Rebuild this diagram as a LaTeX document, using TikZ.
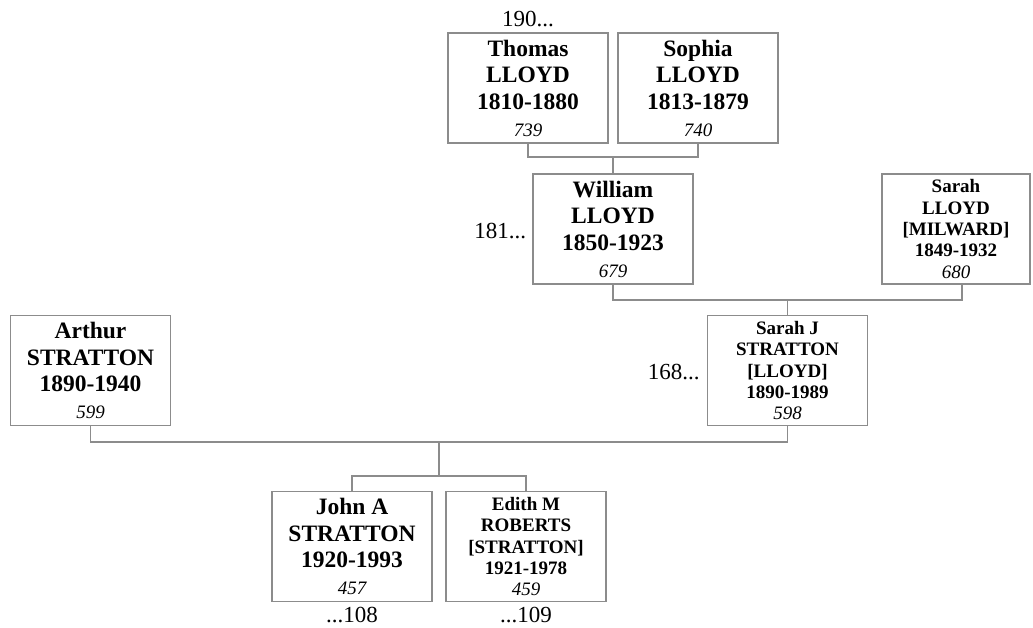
\documentclass[tikz,border=0pt]{standalone}
\usepackage{fontspec}
\setmainfont{Liberation Serif}
\usetikzlibrary{positioning}
\definecolor{boxgray}{RGB}{140,140,140}
\newcommand{\idno}[1]{{\fontsize{19}{21}\selectfont\mdseries\itshape #1}}

\begin{document}
\begin{tikzpicture}[
		x=1pt, y=-1pt,
		person/.style={
				draw=boxgray,
				line width=1.2pt,
				minimum width=160pt,
				minimum height=110pt,
				inner sep=0pt,
				align=center,
				font=\fontsize{23.5}{26.7}\selectfont\bfseries
			},
		small/.style={
				font=\fontsize{19}{21.3}\selectfont\bfseries,
				execute at begin node={\rule{0pt}{19pt}} % pushes the 5 lines down a bit
			},
		link/.style={draw=boxgray, line width=1.2pt},
		ref/.style={inner sep=0pt, font=\fontsize{23}{26}\selectfont}
	]
	\useasboundingbox (0,0) rectangle (1033,627);

	% grandparents
	\node[person] (thomas) at (528,88) {Thomas\\LLOYD\\1810-1880\\\idno{739}};
	\node[person] (sophia) at (698,88) {Sophia\\LLOYD\\1813-1879\\\idno{740}};

	% parents of Sarah J
	\node[person] (william) at (613,229) {William\\LLOYD\\1850-1923\\\idno{679}};
	\node[person, small, minimum width=148pt] (sarahl) at (956,229) {Sarah\\LLOYD\\{[MILWARD]}\\1849-1932\\\idno{680}};

	% couple
	\node[person] (arthur) at (90.5,370.5) {Arthur\\STRATTON\\1890-1940\\\idno{599}};
	\node[person, small] (sarahj) at (787.5,370.5) {Sarah J\\STRATTON\\{[LLOYD]}\\1890-1989\\\idno{598}};

	% children
	\node[person] (john) at (352,546.5) {John A\\STRATTON\\1920-1993\\\idno{457}};
	\node[person, small] (edith) at (526,546.5) {Edith M\\ROBERTS\\{[STRATTON]}\\1921-1978\\\idno{459}};

	% page references
	\node[ref, above=5pt of thomas] (thomasref) {190...};
	\node[ref, left=6pt of william, yshift=-2pt] (williamref) {181...};
	\node[ref, left=7pt of sarahj, yshift=-2pt] (sarahjref) {168...};
	\node[ref, below=5pt of john] (johnref) {...108};
	\node[ref, below=5pt of edith] (edithref) {...109};

	% family lines
	\coordinate (ts) at (613,157);
	\draw[link] (thomas.south) |- (ts) -| (sophia.south);
	\draw[link] (ts) -- (william.north);

	\coordinate (ws) at (787.5,300);
	\draw[link] (william.south) |- (ws) -| ([xshift=6pt]sarahl.south);
	\draw[link] (ws) -- (sarahj.north);

	\coordinate (as) at (439,442);
	\coordinate (kids) at (439,476);
	\draw[link] (arthur.south) |- (as) -| (sarahj.south);
	\draw[link] (as) -- (kids);
	\draw[link] (john.north) |- (kids) -| (edith.north);

\end{tikzpicture}
\end{document}
